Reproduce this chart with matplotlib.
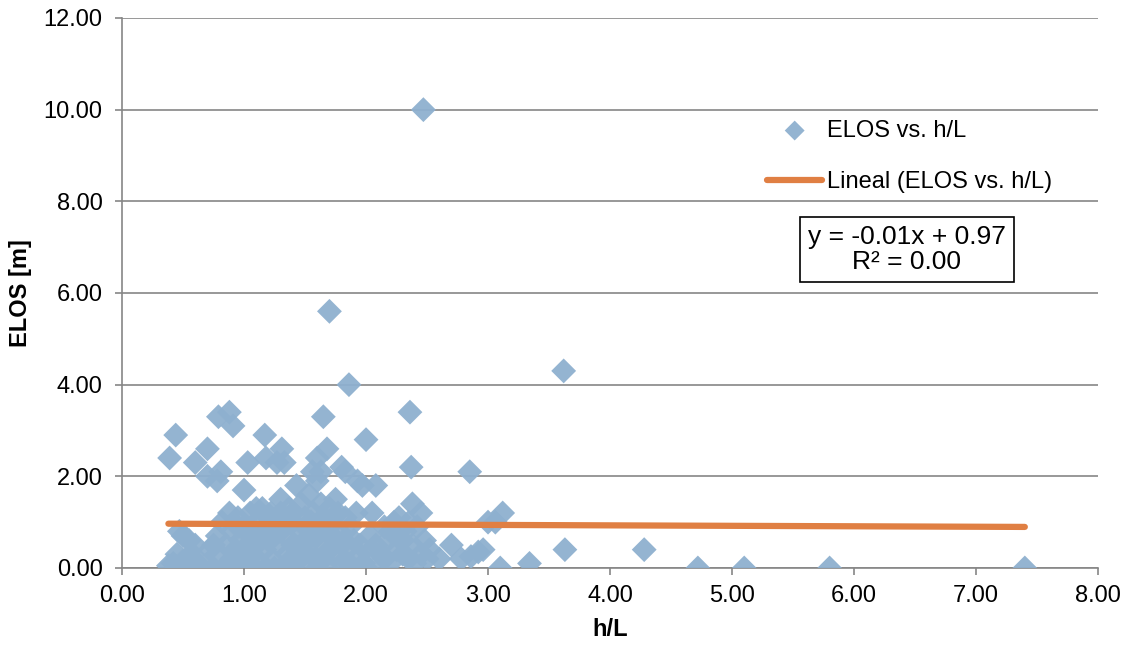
import numpy as np
import matplotlib.pyplot as plt

plt.rcParams['font.family'] = ['Liberation Sans', 'DejaVu Sans']

# Data (h/L vs ELOS)
hl = [2.47, 1.70, 1.86, 3.62,
      0.39, 0.44, 0.79, 0.88, 0.91, 0.60, 0.70, 0.70, 0.78, 0.81, 1.03, 1.17, 1.18, 1.27, 1.31, 1.33,
      1.65, 1.60, 1.68, 1.63, 1.56, 1.80, 1.83, 2.00, 1.93, 1.97, 2.36, 2.37, 2.85, 2.38, 2.45, 2.08,
      3.00, 3.06, 3.12, 2.70, 2.60, 2.78, 2.86, 2.92, 2.96, 3.10, 3.34, 3.63, 4.28, 4.72, 5.10, 5.80,
      7.40, 1.00,
      0.38, 0.42, 0.45, 0.47, 0.50, 0.52, 0.55, 0.58, 0.62, 0.65, 0.70, 0.72, 0.75, 0.78, 0.80, 0.82,
      0.85, 0.87, 0.88, 0.90, 0.92, 0.93, 0.95, 0.97, 0.98, 1.00, 1.02, 1.03, 1.05, 1.07, 1.08, 1.10,
      1.12, 1.13, 1.15, 1.17, 1.18, 1.20, 1.22, 1.23, 1.25, 1.27, 1.28, 1.30, 1.31, 1.33, 1.35, 1.37,
      1.38, 1.40, 1.42, 1.43, 1.45, 1.47, 1.48, 1.50, 1.52, 1.53, 1.55, 1.57, 1.58, 1.60, 1.62, 1.63,
      1.65, 1.67, 1.68, 1.70, 1.72, 1.73, 1.75, 1.77, 1.78, 1.80, 1.82, 1.83, 1.85, 1.87, 1.90, 1.92,
      1.95, 1.98, 2.00, 2.03, 2.05, 2.08, 2.10, 2.12, 2.15, 2.18, 2.20, 2.23, 2.25, 2.27, 2.30, 2.32,
      2.35, 2.38, 2.40, 2.42, 2.45, 2.48, 2.50, 2.52,
      0.85, 0.95, 1.05, 0.90, 1.00, 1.10, 1.20, 1.25, 1.35, 1.45, 1.55, 1.60, 1.65, 1.70, 1.75, 1.80,
      1.85, 1.90, 1.15, 1.05, 0.95, 1.40, 1.50, 1.30, 1.60, 1.70, 1.50, 1.40, 1.20, 1.10, 1.30, 1.55,
      1.65, 1.75, 0.75, 0.60, 0.50, 0.45, 2.15, 2.25, 2.35, 2.20, 2.30, 2.05, 1.95]
elos = [10.0, 5.6, 4.0, 4.3,
        2.4, 2.9, 3.3, 3.4, 3.1, 2.3, 2.6, 2.0, 1.9, 2.1, 2.3, 2.9, 2.4, 2.3, 2.6, 2.3,
        3.3, 2.4, 2.6, 2.1, 2.1, 2.2, 2.1, 2.8, 1.9, 1.8, 3.4, 2.2, 2.1, 1.4, 1.2, 1.8,
        1.0, 1.0, 1.2, 0.5, 0.2, 0.2, 0.25, 0.35, 0.4, 0.0, 0.1, 0.4, 0.4, 0.0, 0.0, 0.0,
        0.0, 1.7,
        0.05, 0.1, 0.3, 0.8, 0.7, 0.2, 0.6, 0.3, 0.1, 0.0, 0.1, 0.4, 0.0, 0.7, 0.3, 1.0,
        0.5, 0.1, 1.2, 0.8, 0.0, 0.4, 1.1, 0.6, 0.2, 0.9, 0.0, 0.5, 1.2, 0.3, 0.8, 1.0,
        0.1, 0.6, 1.3, 0.4, 0.0, 0.9, 1.2, 0.2, 0.7, 1.1, 0.5, 1.5, 0.0, 0.9, 0.3, 1.3,
        0.6, 1.0, 0.1, 1.8, 0.8, 1.4, 0.4, 1.1, 0.0, 1.6, 0.7, 1.2, 0.2, 1.9, 0.9, 1.4,
        0.5, 1.0, 0.0, 1.3, 0.7, 1.1, 0.3, 1.2, 0.8, 0.1, 0.6, 1.1, 0.4, 0.9, 0.6, 1.2,
        0.3, 0.1, 0.0, 0.7, 1.2, 0.5, 0.0, 0.3, 0.9, 0.6, 0.1, 1.0, 0.4, 1.1, 0.3, 0.8,
        0.2, 0.5, 0.1, 0.9, 0.3, 0.6, 0.2, 0.4,
        0.0, 0.0, 0.1, 0.2, 0.4, 0.5, 0.6, 0.0, 0.1, 0.2, 0.3, 0.0, 0.2, 0.4, 0.6, 0.5,
        0.1, 0.0, 0.8, 0.7, 0.9, 0.5, 0.6, 0.8, 0.7, 0.9, 0.9, 1.2, 1.1, 1.3, 1.2, 1.0,
        1.1, 1.5, 0.5, 0.5, 0.1, 0.0, 0.2, 0.7, 1.0, 0.8, 0.6, 0.4, 0.5]

# trend line coefficients shown on the chart
slope = -0.01
intercept = 0.97

fig = plt.figure(figsize=(11.3, 6.45), dpi=100)
ax = fig.add_axes([0.108, 0.1194, 0.8637, 0.8527])

ax.scatter(hl, elos, marker='D', s=160, color='#8eb0cf', edgecolors='none',
           alpha=0.95, label='ELOS vs. h/L', zorder=3)

xfit = np.array([min(hl), max(hl)])
ax.plot(xfit, slope * xfit + intercept, color='#e07f43', lw=4.5,
        solid_capstyle='round', label='Lineal (ELOS vs. h/L)', zorder=4)

ax.set_xlim(0, 8)
ax.set_ylim(0, 12)
ax.set_xticks(np.arange(0, 8.01, 1))
ax.set_yticks(np.arange(0, 12.01, 2))
ax.xaxis.set_major_formatter(plt.FormatStrFormatter('%.2f'))
ax.yaxis.set_major_formatter(plt.FormatStrFormatter('%.2f'))
ax.tick_params(labelsize=17, colors='#868686', labelcolor='black', length=5, width=1.2)
ax.tick_params(axis='y', pad=9)
ax.tick_params(axis='x', pad=7)
ax.grid(axis='y', color='#868686', lw=1.2)
ax.set_axisbelow(True)
for s in ['top', 'right']:
    ax.spines[s].set_visible(False)
for s in ['left', 'bottom']:
    ax.spines[s].set_color('#868686')
    ax.spines[s].set_linewidth(1.2)

ax.set_xlabel('h/L', fontsize=17, fontweight='bold', labelpad=8)
ax.set_ylabel('ELOS [m]', fontsize=17, fontweight='bold', labelpad=8)

ax.legend(loc='upper left', bbox_to_anchor=(0.661, 0.815), frameon=False,
          fontsize=17, markerscale=0.8, handlelength=2.33, handletextpad=0.2,
          labelspacing=1.25, borderpad=0, borderaxespad=0)

ax.text(0.804, 0.579, 'y = -0.01x + 0.97\nR² = 0.00', transform=ax.transAxes,
        ha='center', va='center', fontsize=19, linespacing=1.1,
        bbox=dict(boxstyle='square,pad=0.3', fc='white', ec='black', lw=1.2))

fig.savefig('out.png', dpi=100)
